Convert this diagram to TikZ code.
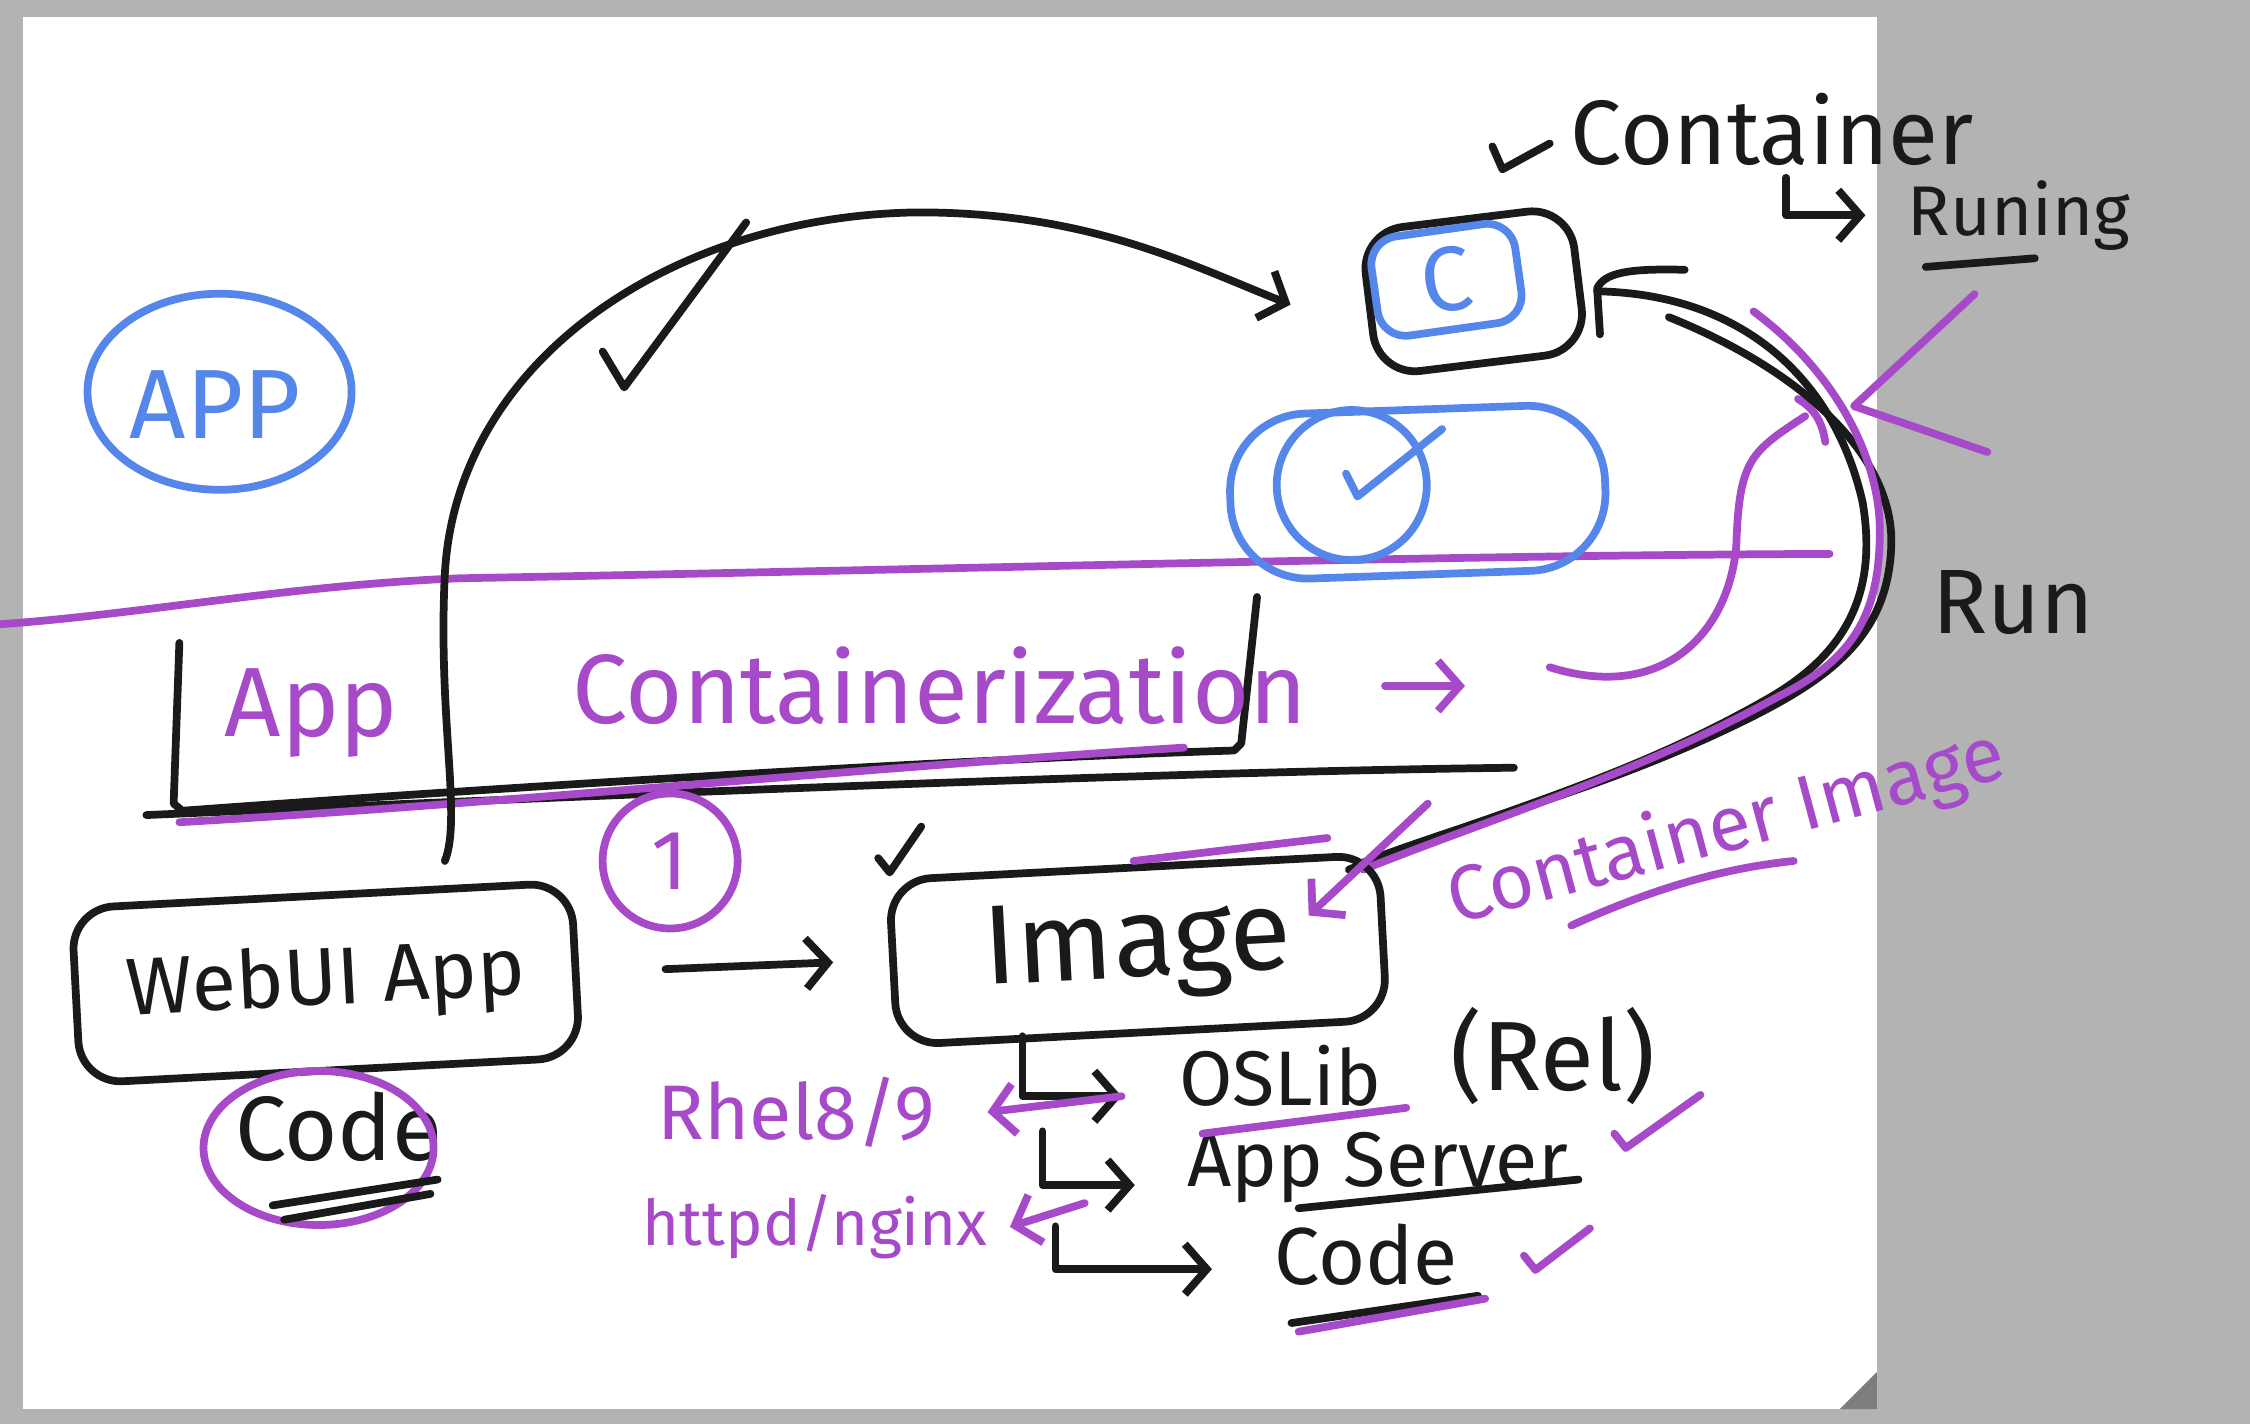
\documentclass[tikz,border=0pt]{standalone}
\usepackage{fontspec}
\setmainfont{Fira Sans}
\usetikzlibrary{arrows.meta}
\definecolor{inkblack}{HTML}{1A1A1A}
\definecolor{penpurple}{HTML}{A64AC9}
\definecolor{penblue}{HTML}{5586EA}
\definecolor{paper}{HTML}{B3B3B3}
\newcommand{\pf}[1]{\fontsize{#1}{#1}\selectfont}
\begin{document}
\begin{tikzpicture}[x=0.01435cm,y=-0.01435cm,>={Straight Barb[length=2.2mm,width=5mm]},
	ink/.style={draw=inkblack,line width=2.2pt,line cap=round,line join=round},
	pen/.style={draw=penpurple,line width=2.2pt,line cap=round,line join=round},
	bpen/.style={draw=penblue,line width=2.2pt,line cap=round,line join=round},
	hbox/.style={ink,rounded corners=12pt,inner sep=2pt},
	note/.style={text=inkblack},
	pnote/.style={text=penpurple}]
	\fill[paper] (0,0) rectangle (1568,992);
	\fill[white] (16,12) rectangle (1308,982);
	\fill[paper!70!black] (1282,982) -- (1308,956) -- (1308,982) -- cycle;
	\useasboundingbox (0,0) rectangle (1568,992);
	% app bubble
	\node[text=penblue,font=\pf{28}] (app) at (150,282) {APP};
	\draw[bpen] (153,273) ellipse [x radius=1.32cm,y radius=0.98cm];
	% divider and app bracket
	\draw[pen] (0,435) .. controls (100,428) and (200,408) .. (320,403) .. controls (700,396) and (1000,387) .. (1275,386);
	\draw[ink] (125,448) -- (121,560) -- (127,565) .. controls (400,545) and (700,528) .. (860,523) -- (865,518) -- (876,416);
	\draw[ink] (102,568) .. controls (400,555) and (800,538) .. (1055,535);
	\draw[pen] (125,573) .. controls (350,560) and (600,535) .. (825,521);
	\node[pnote,font=\pf{28}] (appword) at (217,497) {App};
	\node[pnote,font=\pf{28}] (ctz) at (655,478) {Containerization};
	\draw[pen,->] ([xshift=0.65cm]ctz.east) -- ([xshift=1.45cm]ctz.east);
	\draw[pen] (1080,465) .. controls (1160,490) and (1205,440) .. (1210,380) .. controls (1212,320) and (1220,315) .. (1258,290);
	\draw[pen] (1253,278) .. controls (1265,285) and (1270,295) .. (1272,308);
	% container
	\node[hbox,minimum width=2.1cm,minimum height=1.45cm,rotate=7] (cbox) at (1027,203) {};
	\node[bpen,rounded corners=8pt,minimum width=1.45cm,minimum height=1cm,rotate=8,text=penblue,font=\pf{26}] (c) at (1008,195) {C};
	\node[bpen,rounded corners=22pt,minimum width=3.75cm,minimum height=1.65cm,rotate=2] (pill) at (988,343) {};
	\node[bpen,circle,minimum size=1.5cm] (done) at (942,338) {};
	\draw[bpen] (938,330) -- (946,346) -- (1005,299);
	\node[note,font=\pf{26}] (ctr) at (1235,90) {Container};
	\draw[ink] (1040,102) -- (1047,118) -- (1080,100);
	\node[note,font=\pf{20}] (runing) at (1407,150) {Runing};
	\draw[ink] (1342,186) -- (1418,180);
	\draw[ink,->] ([xshift=0.14cm]ctr.south) |- ([xshift=-0.3cm]runing.west);
	\node[note,font=\pf{26}] (run) at (1403,420) {Run};
	\draw[pen] (1376,205) -- (1292,283) -- (1385,315);
	% big arc
	\coordinate (webtop) at (310,600);
	\draw[ink,->] (webtop) .. controls (322,570) and (305,500) .. (310,400) .. controls (318,250) and (470,150) .. (640,148) .. controls (760,148) and (830,185) .. ([xshift=-0.75cm]cbox.west);
	\draw[ink] (420,245) -- (435,270) -- (520,155);
	% loop back to image
	\draw[ink] (1115,233) -- (1113,201) .. controls (1118,190) and (1135,187) .. (1174,188);
	\draw[ink] (1113,203) .. controls (1220,205) and (1280,270) .. (1298,350) .. controls (1310,420) and (1280,460) .. (1230,488) .. controls (1130,545) and (1030,570) .. (940,606);
	\draw[ink] (1163,221) .. controls (1260,260) and (1320,320) .. (1318,380) .. controls (1316,440) and (1280,470) .. (1220,500) .. controls (1120,550) and (1030,570) .. (945,603);
	\draw[pen] (1222,217) .. controls (1280,260) and (1310,320) .. (1310,370) .. controls (1310,430) and (1290,460) .. (1240,485) .. controls (1140,540) and (1040,570) .. (950,606);
	% images
	\node[hbox,minimum width=5cm,minimum height=1.75cm,rotate=3,note,font=\pf{23}] (webui) at (227,685) {WebUI App};
	\node[hbox,minimum width=4.9cm,minimum height=1.65cm,rotate=3,note,font=\pf{32}] (image) at (793,662) {Image};
	\draw[ink,->,shorten <=0.86cm,shorten >=0.56cm] (webui) -- (image);
	\draw[ink] (612,598) -- (620,608) -- (642,576);
	\draw[pen] (790,600) -- (925,584);
	\node[pnote,font=\pf{22},rotate=15] (cimg) at (1203,578) {Container Image};
	\draw[pen] (1095,645) .. controls (1150,620) and (1200,605) .. (1250,600);
	\draw[pen,->] (995,560) -- (912,638);
	\node[pen,circle,minimum size=1.35cm,pnote,font=\pf{24}] (one) at (467,600) {1};
	\node[note,font=\pf{26}] (code) at (236,785) {Code};
	\draw[pen] (222,800) ellipse [x radius=1.15cm,y radius=0.77cm];
	\draw[ink] (190,840) -- (305,822);
	\draw[ink] (198,850) -- (300,832);
	% layers
	\node[note,font=\pf{22}] (oslib) at (892,750) {OSLib};
	\node[note,font=\pf{28}] (rel) at (1082,736) {(Rel)};
	\node[note,font=\pf{22}] (appsrv) at (960,814) {App Server};
	\node[note,font=\pf{23}] (code2) at (952,874) {Code};
	\draw[ink,->] ([xshift=-1.2cm]image.south) |- ([xshift=-0.45cm,yshift=-0.2cm]oslib.west);
	\draw[ink,->] ([xshift=-1.0cm,yshift=-0.95cm]image.south) |- ([xshift=-0.4cm,yshift=-0.17cm]appsrv.west);
	\draw[ink,->] ([xshift=-0.87cm,yshift=-1.9cm]image.south) |- ([xshift=-0.5cm,yshift=-0.15cm]code2.west);
	\draw[pen] (838,790) -- (980,772);
	\draw[ink] (905,842) -- (1100,822);
	\draw[ink] (900,922) -- (1030,903);
	\draw[pen] (905,928) -- (1035,905);
	\draw[pen] (1125,790) -- (1133,800) -- (1185,763);
	\draw[pen] (1062,875) -- (1070,885) -- (1108,856);
	\node[pnote,font=\pf{22}] (rhel) at (555,775) {Rhel8/9};
	\node[pnote,font=\pf{18}] (httpd) at (568,855) {httpd/nginx};
	\draw[pen,->] ([xshift=-0.45cm,yshift=-0.2cm]oslib.west) -- ([xshift=0.4cm]rhel.east);
	\draw[pen,->] ([xshift=-0.9cm,yshift=-0.35cm]appsrv.west) -- ([xshift=0.1cm]httpd.east);
\end{tikzpicture}
\end{document}
